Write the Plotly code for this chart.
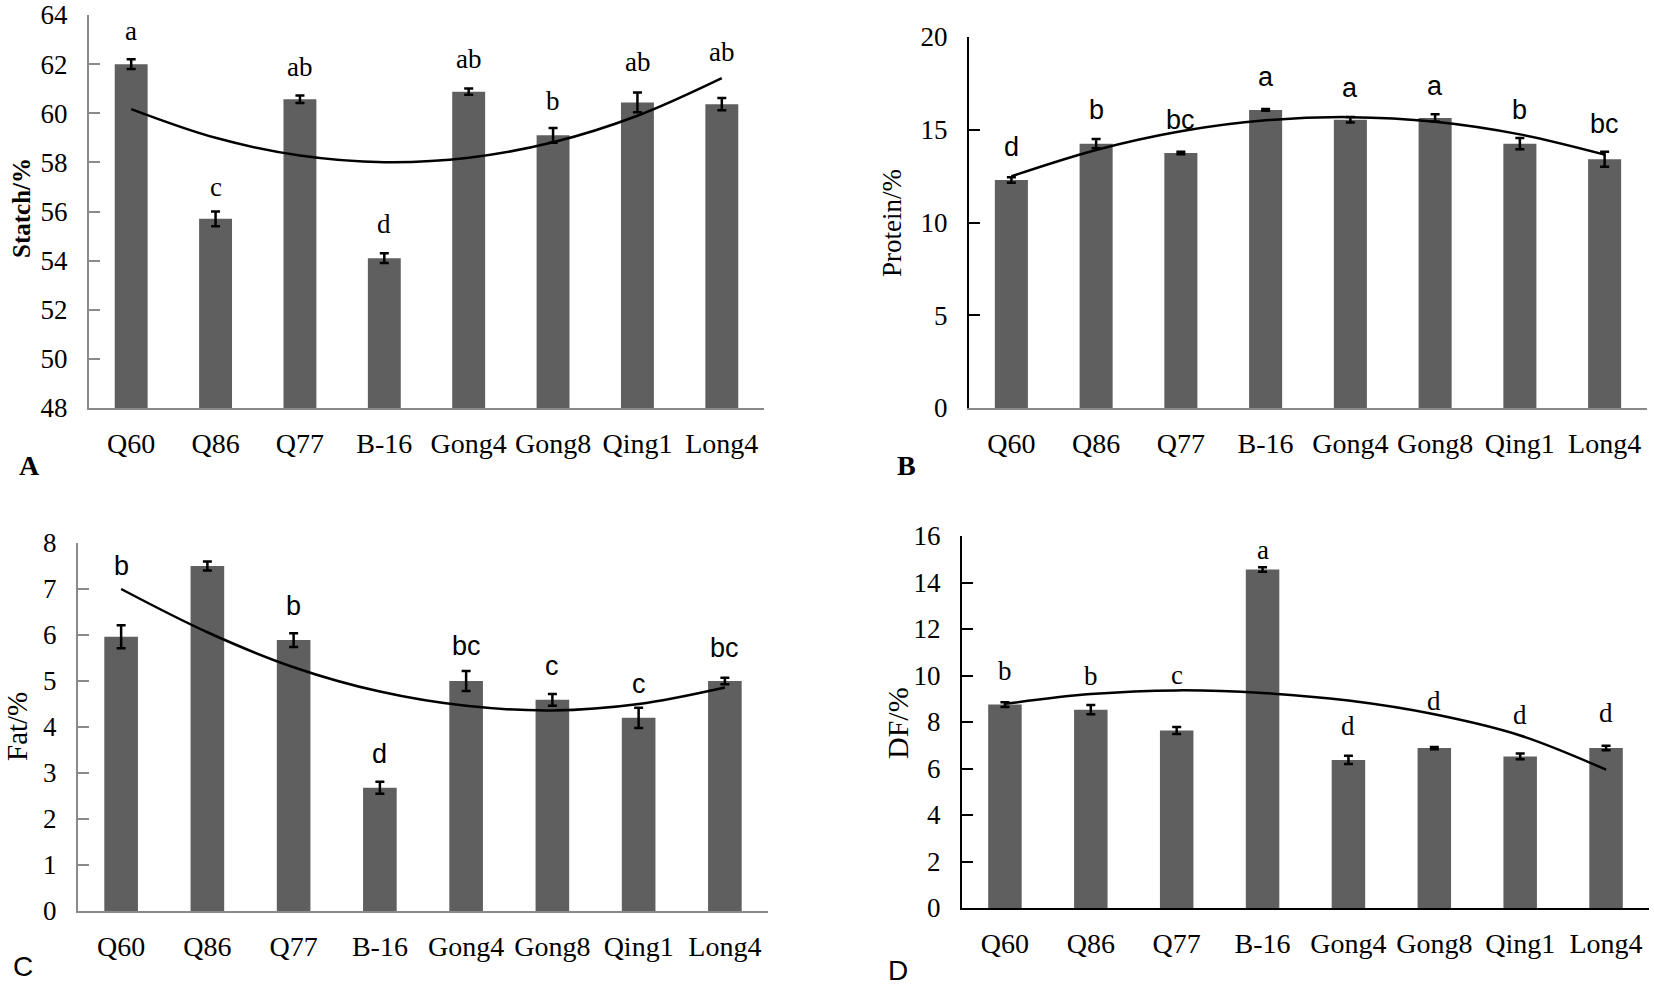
import plotly.graph_objects as go

# cultivars on every panel
categories = ["Q60", "Q86", "Q77", "B-16", "Gong4", "Gong8", "Qing1", "Long4"]

# A - starch
starch = [62.0, 55.7, 60.57, 54.1, 60.88, 59.1, 60.44, 60.37]
starch_err = [0.2, 0.3, 0.15, 0.2, 0.13, 0.3, 0.4, 0.25]
starch_trend = [60.17, 59.00, 58.28, 58.01, 58.19, 58.82, 59.90, 61.43]
starch_letters = ["a", "c", "ab", "d", "ab", "b", "ab", "ab"]
starch_letter_y = [63.33, 57.0, 61.9, 55.5, 62.2, 60.5, 62.1, 62.5]

# B - protein
protein = [12.29, 14.25, 13.75, 16.07, 15.54, 15.64, 14.25, 13.41]
protein_err = [0.15, 0.25, 0.07, 0.05, 0.15, 0.2, 0.3, 0.4]
protein_trend = [12.49, 13.91, 14.92, 15.51, 15.68, 15.43, 14.75, 13.66]
protein_letters = ["d", "b", "bc", "a", "a", "a", "b", "bc"]
protein_letter_y = [14.07, 16.04, 15.5, 17.82, 17.25, 17.37, 16.04, 15.32]

# C - fat
fat = [5.96, 7.5, 5.89, 2.68, 5.0, 4.59, 4.2, 5.0]
fat_err = [0.25, 0.1, 0.15, 0.13, 0.22, 0.13, 0.22, 0.07]
fat_trend = [7.0, 6.06, 5.3, 4.77, 4.46, 4.36, 4.5, 4.86]
fat_letters = ["b", "a", "b", "d", "bc", "c", "c", "bc"]
fat_letter_y = [7.5, 8.02, 6.63, 3.42, 5.76, 5.32, 4.93, 5.72]

# D - dietary fibre
dfib = [8.75, 8.53, 7.63, 14.56, 6.37, 6.88, 6.52, 6.88]
dfib_err = [0.1, 0.2, 0.15, 0.1, 0.18, 0.05, 0.12, 0.1]
dfib_trend = [8.78, 9.2, 9.36, 9.25, 8.92, 8.33, 7.42, 5.95]
dfib_letters = ["b", "b", "c", "a", "d", "d", "d", "d"]
dfib_letter_y = [10.19, 9.97, 10.04, 15.38, 7.81, 8.89, 8.32, 8.39]

W, H = 1654, 987
SERIF = "Liberation Serif, Times New Roman, serif"
SANS = "Liberation Sans, Arial, sans-serif"
BAR = "#5f5f5f"
GREY = "#8a8a8a"


def px_x(p):
    return p / W


def px_y(p):
    return 1 - p / H


panels = [
    dict(v=starch, e=starch_err, t=starch_trend, l=starch_letters, ly=starch_letter_y,
         title="<b>Statch/%</b>", tsize=25, yr=[48, 64], dt=2, xd=(89, 764), yd=(15, 408),
         ycol=GREY, xcol=GREY, lfont=SERIF, tpos=(22, 208), lab="<b>A</b>", labpos=(29, 465), labfont=SERIF),
    dict(v=protein, e=protein_err, t=protein_trend, l=protein_letters, ly=protein_letter_y,
         title="Protein/%", tsize=27, yr=[0, 20], dt=5, xd=(969, 1647), yd=(37, 408),
         ycol="black", xcol=GREY, lfont=SANS, tpos=(892, 223), lab="<b>B</b>", labpos=(906, 465), labfont=SERIF),
    dict(v=fat, e=fat_err, t=fat_trend, l=fat_letters, ly=fat_letter_y,
         title="Fat/%", tsize=29, yr=[0, 8], dt=1, xd=(78, 768), yd=(543, 911),
         ycol=GREY, xcol=GREY, lfont=SANS, tpos=(17, 727), lab="C", labpos=(23, 966), labfont=SANS),
    dict(v=dfib, e=dfib_err, t=dfib_trend, l=dfib_letters, ly=dfib_letter_y,
         title="DF/%", tsize=30, yr=[0, 16], dt=2, xd=(962, 1649), yd=(536, 908),
         ycol="black", xcol="black", lfont=SERIF, tpos=(897, 723), lab="D", labpos=(898, 970), labfont=SANS),
]

fig = go.Figure()
annotations = []
layout = {}

for i, p in enumerate(panels):
    n = "" if i == 0 else str(i + 1)
    xa, ya = "x" + n, "y" + n

    fig.add_trace(go.Bar(
        x=categories, y=p["v"], xaxis=xa, yaxis=ya,
        marker=dict(color=BAR, line=dict(width=0)),
        error_y=dict(type="data", array=p["e"], color="black", thickness=2.5, width=4.5),
        showlegend=False,
    ))
    fig.add_trace(go.Scatter(
        x=categories, y=p["t"], xaxis=xa, yaxis=ya, mode="lines",
        line=dict(color="black", width=2.5, shape="spline", smoothing=1.0),
        showlegend=False, cliponaxis=False,
    ))

    layout["xaxis" + n] = dict(
        domain=[px_x(p["xd"][0]), px_x(p["xd"][1])], anchor=ya,
        type="category", range=[-0.5, 7.5], automargin=False,
        showline=True, linecolor=p["xcol"], linewidth=2, ticks="",
        showgrid=False, zeroline=False, fixedrange=True,
        tickfont=dict(family=SERIF, size=28, color="black"),
        ticklabelstandoff=9,
    )
    layout["yaxis" + n] = dict(
        domain=[px_y(p["yd"][1]), px_y(p["yd"][0])], anchor=xa,
        range=p["yr"], dtick=p["dt"], automargin=False,
        showline=True, linecolor=p["ycol"], linewidth=2,
        ticks="inside", ticklen=11, tickwidth=2, tickcolor=p["ycol"],
        showgrid=False, zeroline=False, fixedrange=True,
        tickfont=dict(family=SERIF, size=27, color="black"),
        ticklabelstandoff=14, ticklabeloverflow="allow",
    )

    for c, txt, y in zip(categories, p["l"], p["ly"]):
        annotations.append(dict(
            x=c, y=y, xref=xa, yref=ya, text=txt, showarrow=False,
            font=dict(family=p["lfont"], size=27, color="black"),
            xanchor="center", yanchor="middle",
        ))

    annotations.append(dict(
        x=px_x(p["tpos"][0]), y=px_y(p["tpos"][1]), xref="paper", yref="paper",
        text=p["title"], textangle=-90, showarrow=False,
        font=dict(family=SERIF, size=p["tsize"], color="black"),
        xanchor="center", yanchor="middle",
    ))
    annotations.append(dict(
        x=px_x(p["labpos"][0]), y=px_y(p["labpos"][1]), xref="paper", yref="paper",
        text=p["lab"], showarrow=False,
        font=dict(family=p["labfont"], size=28, color="black"),
        xanchor="center", yanchor="middle",
    ))

fig.update_layout(
    **layout,
    width=W, height=H,
    margin=dict(l=0, r=0, t=0, b=0),
    paper_bgcolor="white", plot_bgcolor="white",
    bargap=0.61,
    annotations=annotations,
    showlegend=False,
)

fig.write_html("out.html", config={"displayModeBar": False},
               post_script="document.body.style.margin='0';document.body.style.overflow='hidden';")
